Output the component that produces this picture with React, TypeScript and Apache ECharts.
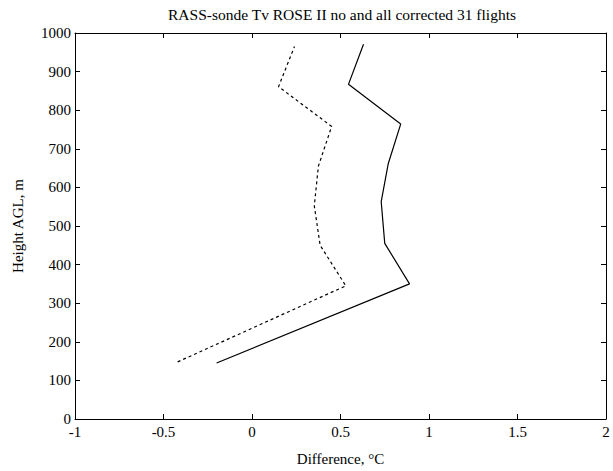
import React, { useEffect, useRef } from "react";
import * as echarts from "echarts";

const heightsSolid = [145, 350, 455, 563, 662, 764, 867, 971];
const diffSolid = [-0.2, 0.89, 0.75, 0.73, 0.77, 0.84, 0.545, 0.63];
const heightsDashed = [148, 345, 450, 552, 655, 758, 861, 965];
const diffDashed = [-0.42, 0.53, 0.385, 0.352, 0.375, 0.45, 0.15, 0.24];

const xTicks = { min: -1, max: 2, interval: 0.5 };
const yTicks = { min: 0, max: 1000, interval: 100 };

const FONT = "Liberation Serif";

export default function App() {
  const ref = useRef<HTMLDivElement>(null);
  useEffect(() => {
    if (!ref.current) return;
    const chart = echarts.init(ref.current, undefined, { renderer: "svg" });
    const axisLine = { show: true, onZero: false, lineStyle: { color: "#000", width: 1 } };
    const axisTick = { show: true, inside: true, length: 5, lineStyle: { color: "#000", width: 1 } };
    chart.setOption({
      animation: false,
      backgroundColor: "#fff",
      grid: { left: 75, right: 7, top: 33, bottom: 51, containLabel: false },
      graphic: [
        {
          type: "text",
          x: 342,
          y: 14,
          style: {
            text: "RASS-sonde Tv ROSE II no and all corrected 31 flights",
            font: `15.5px '${FONT}'`,
            fill: "#000",
            align: "center",
            verticalAlign: "middle",
          },
        },
      ],
      xAxis: [
        {
          type: "value",
          position: "bottom",
          ...xTicks,
          name: "Difference, °C",
          nameLocation: "middle",
          nameGap: 32,
          nameTextStyle: { fontFamily: FONT, fontSize: 15, color: "#000" },
          axisLine,
          axisTick,
          splitLine: { show: false },
          axisLabel: {
            fontFamily: FONT,
            fontSize: 15,
            color: "#000",
            margin: 5,
            formatter: (v: number) => String(v),
          },
        },
        {
          type: "value",
          position: "top",
          ...xTicks,
          axisLine,
          axisTick,
          splitLine: { show: false },
          axisLabel: { show: false },
        },
      ],
      yAxis: [
        {
          type: "value",
          position: "left",
          ...yTicks,
          name: "Height AGL, m",
          nameLocation: "middle",
          nameGap: 50,
          nameTextStyle: { fontFamily: FONT, fontSize: 15, color: "#000" },
          axisLine,
          axisTick,
          splitLine: { show: false },
          axisLabel: {
            fontFamily: FONT,
            fontSize: 15,
            color: "#000",
            margin: 4,
            formatter: (v: number) => String(v),
          },
        },
        {
          type: "value",
          position: "right",
          ...yTicks,
          axisLine,
          axisTick,
          splitLine: { show: false },
          axisLabel: { show: false },
        },
      ],
      series: [
        {
          type: "line",
          data: diffSolid.map((d, i) => [d, heightsSolid[i]]),
          showSymbol: false,
          lineStyle: { color: "#000", width: 1.2, type: "solid" },
        },
        {
          type: "line",
          data: diffDashed.map((d, i) => [d, heightsDashed[i]]),
          showSymbol: false,
          lineStyle: { color: "#000", width: 1.2, type: [3, 3] },
        },
      ],
    });
    return () => chart.dispose();
  }, []);
  return (
    <div
      ref={ref}
      style={{ width: 613, height: 471, position: "absolute", left: 0, top: 0 }}
    />
  );
}
